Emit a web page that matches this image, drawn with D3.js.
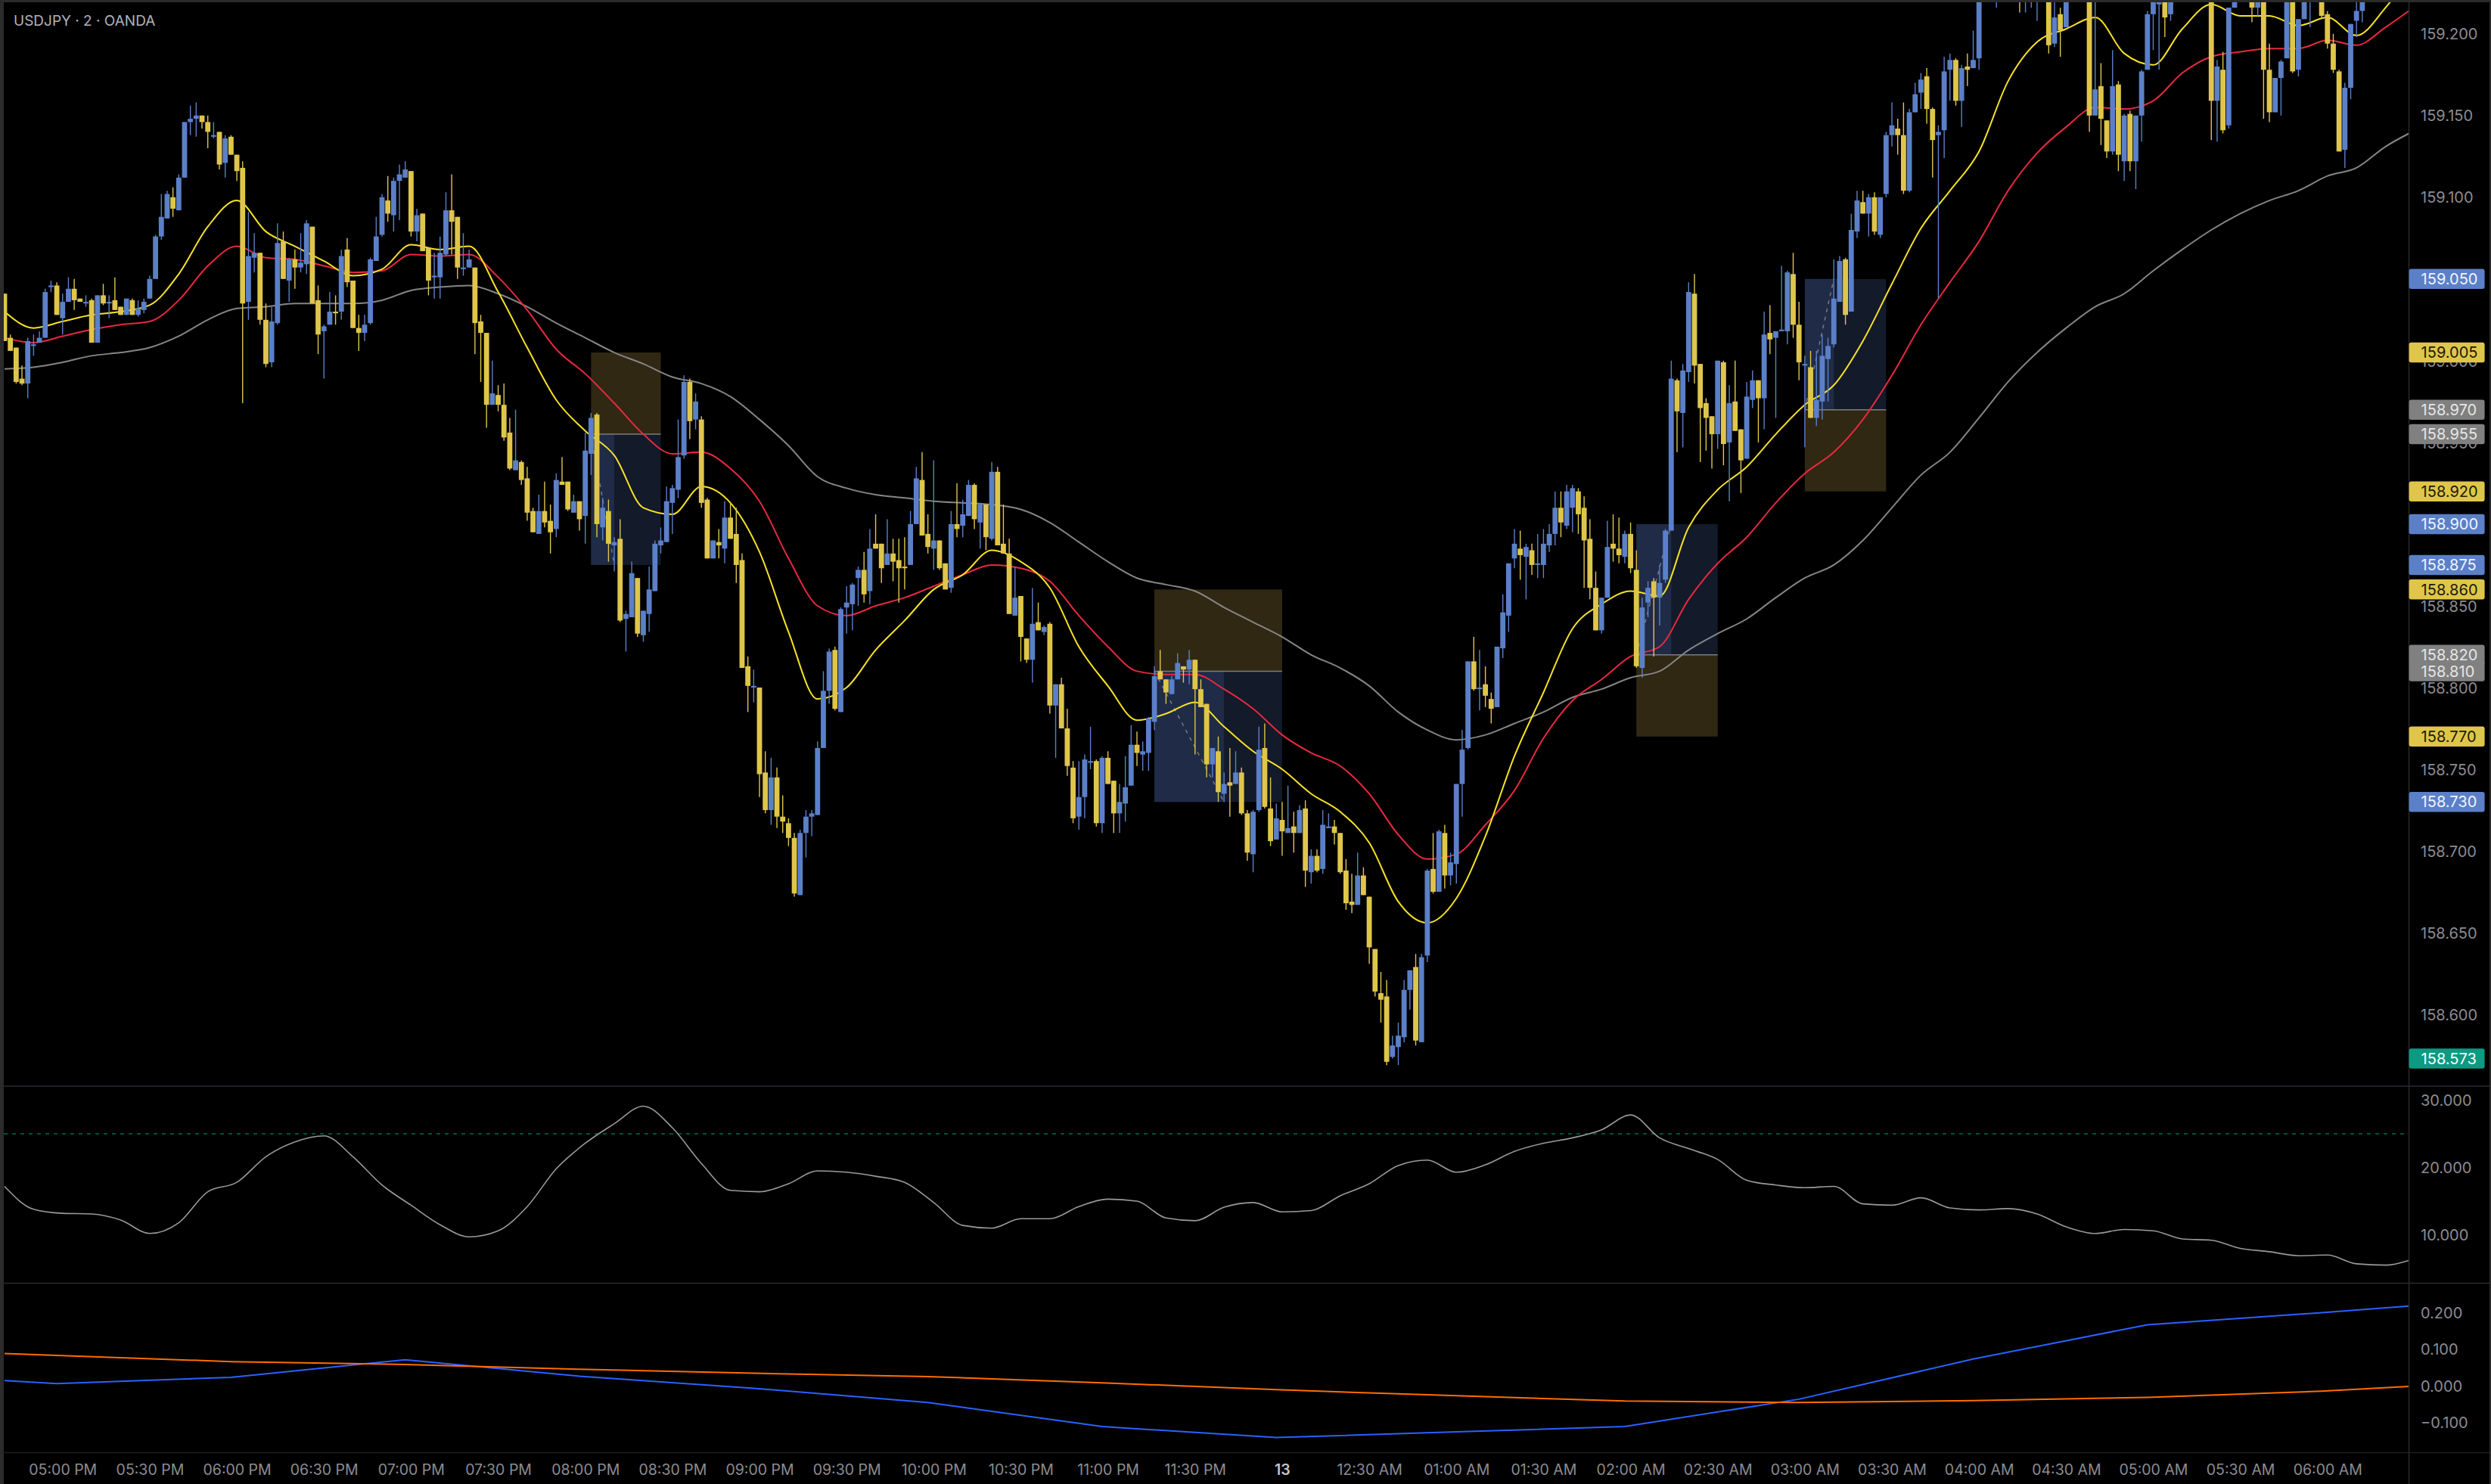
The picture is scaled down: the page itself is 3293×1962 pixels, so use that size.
<!DOCTYPE html>
<html>
<head>
<meta charset="utf-8">
<script src="https://cdn.jsdelivr.net/npm/d3@7"></script>
<style>
  html, body { margin: 0; padding: 0; background: #000; }
  svg { display: block; }
  text { font-family: Inter, "Liberation Sans", sans-serif; }
</style>
</head>
<body>
<script>
// USDJPY 2 minute candles. Bars above the top edge are guesses.
var opens = [
159.041,159.014,159.008,158.989,158.986,159.009,159.011,159.014,159.045,159.046,
159.026,159.036,159.044,159.038,159.035,159.037,159.011,159.040,159.035,159.037,
159.033,159.028,159.037,159.028,159.031,159.038,159.050,159.076,159.087,159.100,
159.092,159.112,159.146,159.148,159.150,159.146,159.137,159.140,159.121,159.137,
159.126,159.118,159.036,159.063,159.066,159.025,158.999,159.023,159.073,159.049,
159.062,159.057,159.059,159.082,159.037,159.018,159.022,159.030,159.030,159.068,
159.049,159.020,159.017,159.023,159.061,159.077,159.098,159.089,159.110,159.112,
159.116,159.079,159.090,159.069,159.051,159.051,159.065,159.092,159.088,159.056,
159.057,159.057,159.024,159.017,158.973,158.979,158.973,158.956,158.933,158.938,
158.928,158.908,158.894,158.908,158.902,158.897,158.926,158.926,158.907,158.914,
158.905,158.943,158.967,158.898,158.908,158.887,158.891,158.842,158.843,158.867,
158.832,158.845,158.859,158.887,158.889,158.913,158.921,158.942,158.987,158.964,
158.964,158.915,158.879,158.889,158.885,158.904,158.894,158.878,158.813,158.800,
158.800,158.748,158.725,158.745,158.721,158.717,158.708,158.673,158.711,158.721,
158.722,158.763,158.798,158.823,158.785,158.849,158.851,158.867,158.872,158.859,
158.888,158.888,158.875,158.882,158.878,158.874,158.875,158.900,158.927,158.894,
158.885,158.890,158.876,158.861,158.900,158.899,158.905,158.924,158.901,158.912,
158.891,158.932,158.888,158.882,158.844,158.856,158.830,158.817,158.840,158.834,
158.839,158.789,158.802,158.775,158.751,158.721,158.733,158.754,158.755,158.717,
158.757,158.743,158.723,158.729,158.740,158.765,158.759,158.760,158.779,158.810,
158.805,158.796,158.805,158.813,158.811,158.817,158.799,158.790,158.753,158.761,
158.735,158.742,158.741,158.748,158.723,158.698,158.725,158.763,158.726,158.707,
158.719,158.711,158.715,158.711,158.726,158.687,158.697,158.689,158.714,158.715,
158.711,158.688,158.669,158.667,158.685,158.672,158.640,158.613,158.611,158.574,
158.580,158.586,158.615,158.629,158.583,158.636,158.689,158.675,158.711,158.685,
158.692,158.741,158.763,158.816,158.799,158.802,158.793,158.788,158.824,158.844,
158.879,158.885,158.880,158.884,158.875,158.875,158.887,158.894,158.910,158.899,
158.910,158.920,158.910,158.891,158.861,158.835,158.855,158.888,158.885,158.880,
158.894,158.872,158.812,158.852,158.865,158.855,158.866,158.896,158.988,158.968,
158.993,159.041,158.998,158.974,158.966,158.955,158.999,158.950,158.975,158.958,
158.940,158.976,158.988,158.977,159.017,159.014,159.018,159.018,159.053,159.022,
158.997,158.996,158.965,158.975,159.001,159.010,159.036,159.062,159.030,159.079,
159.097,159.090,159.100,159.077,159.102,159.138,159.142,159.138,159.104,159.152,
159.164,159.174,159.154,159.138,159.141,159.178,159.184,159.159,159.180,159.179,
159.185,159.222,159.230,159.226,159.232,159.228,159.235,159.230,159.224,159.231,
159.235,159.240,159.232,159.194,159.212,159.204,159.224,159.232,159.228,159.238,
159.150,159.168,159.147,159.128,159.169,159.122,159.151,159.122,159.150,159.178,
159.212,159.218,159.234,159.212,159.238,159.242,159.234,159.240,159.230,159.238,
159.236,159.159,159.178,159.144,159.216,159.228,159.226,159.234,159.216,159.234,
159.178,159.152,159.173,159.185,159.230,159.178,159.209,159.224,159.232,159.232,
159.212,159.194,159.177,159.129,159.167,159.208,159.214];
var highs = [
159.041,159.016,159.008,158.997,159.014,159.016,159.018,159.044,159.049,159.048,
159.041,159.051,159.050,159.038,159.040,159.038,159.040,159.047,159.040,159.051,
159.033,159.038,159.038,159.037,159.038,159.052,159.077,159.102,159.104,159.106,
159.114,159.146,159.156,159.158,159.150,159.150,159.146,159.140,159.138,159.138,
159.126,159.122,159.091,159.078,159.066,159.035,159.033,159.084,159.079,159.063,
159.068,159.078,159.086,159.082,159.046,159.022,159.042,159.040,159.068,159.075,
159.049,159.028,159.028,159.063,159.088,159.102,159.113,159.112,159.120,159.122,
159.116,159.093,159.090,159.069,159.066,159.076,159.103,159.114,159.088,159.078,
159.068,159.057,159.028,159.017,159.000,158.985,158.986,158.965,158.970,158.939,
158.935,158.910,158.918,158.926,158.912,158.931,158.941,158.926,158.918,158.914,
158.956,158.968,158.968,158.916,158.915,158.892,158.903,158.847,158.877,158.867,
158.847,158.874,158.890,158.898,158.923,158.924,158.964,158.991,158.989,158.980,
158.966,158.916,158.890,158.897,158.914,158.913,158.910,158.882,158.819,158.811,
158.800,158.761,158.757,158.751,158.734,158.720,158.711,158.713,158.725,158.725,
158.767,158.810,158.824,158.825,158.849,158.862,158.864,158.874,158.883,158.897,
158.906,158.888,158.903,158.891,158.891,158.892,158.908,158.935,158.944,158.906,
158.939,158.890,158.876,158.908,158.925,158.915,158.927,158.925,158.913,158.912,
158.938,158.935,158.912,158.891,158.874,158.856,158.830,158.861,158.852,158.838,
158.840,158.802,158.806,158.787,158.755,158.755,158.759,158.776,158.756,158.758,
158.761,158.743,158.741,158.758,158.777,158.773,158.767,158.782,158.813,158.823,
158.805,158.807,158.821,158.813,158.823,158.817,158.805,158.790,158.763,158.770,
158.748,158.763,158.761,158.751,158.725,158.725,158.776,158.778,158.745,158.729,
158.730,158.740,158.724,158.728,158.731,158.701,158.701,158.725,158.723,158.719,
158.711,158.695,158.686,158.699,158.690,158.672,158.640,158.626,158.621,158.587,
158.595,158.621,158.627,158.637,158.637,158.689,158.711,158.713,158.716,158.699,
158.741,158.774,158.816,158.831,158.823,158.813,158.797,158.825,158.857,158.876,
158.897,158.896,158.888,158.888,158.894,158.897,158.900,158.920,158.920,158.924,
158.924,158.922,158.917,158.903,158.871,158.855,158.902,158.906,158.904,158.896,
158.901,158.884,158.855,158.865,158.867,158.875,158.897,159.000,158.989,158.998,
159.048,159.053,158.998,158.977,158.966,159.000,159.000,158.985,159.000,158.958,
158.987,158.994,158.988,159.030,159.034,159.018,159.058,159.055,159.066,159.036,
159.003,159.006,159.006,159.016,159.014,159.062,159.064,159.063,159.090,159.104,
159.104,159.102,159.103,159.100,159.140,159.158,159.148,159.158,159.154,159.170,
159.176,159.179,159.155,159.144,159.186,159.188,159.185,159.181,159.188,159.202,
159.226,159.232,159.236,159.235,159.240,159.238,159.242,159.236,159.234,159.238,
159.244,159.246,159.238,159.225,159.216,159.232,159.236,159.238,159.242,159.242,
159.225,159.182,159.147,159.190,159.171,159.151,159.153,159.150,159.178,159.214,
159.235,159.240,159.240,159.245,159.246,159.248,159.246,159.246,159.242,159.244,
159.244,159.184,159.189,159.216,159.236,159.236,159.238,159.240,159.240,159.240,
159.194,159.173,159.184,159.236,159.238,159.209,159.234,159.240,159.238,159.238,
159.214,159.200,159.178,159.170,159.206,159.225,159.236];
var lows = [
159.012,159.006,158.986,158.985,158.977,159.003,159.011,159.014,159.042,159.028,
159.016,159.036,159.031,159.036,159.033,159.011,159.011,159.034,159.026,159.031,
159.028,159.028,159.028,159.027,159.029,159.038,159.050,159.074,159.087,159.088,
159.092,159.112,159.138,159.137,159.142,159.130,159.136,159.117,159.112,159.126,
159.110,158.974,159.025,159.054,159.022,158.996,158.996,159.022,159.050,159.036,
159.044,159.054,159.053,159.035,159.004,158.989,159.022,159.022,159.025,159.045,
159.020,159.006,159.012,159.022,159.061,159.076,159.085,159.079,159.086,159.112,
159.076,159.073,159.067,159.040,159.038,159.038,159.064,159.065,159.050,159.052,
159.057,159.004,158.987,158.959,158.973,158.969,158.951,158.933,158.933,158.924,
158.902,158.895,158.894,158.898,158.882,158.892,158.924,158.908,158.907,158.896,
158.888,158.930,158.892,158.890,158.877,158.871,158.840,158.822,158.843,158.831,
158.828,158.834,158.859,158.882,158.889,158.894,158.916,158.940,158.952,158.958,
158.910,158.879,158.879,158.879,158.876,158.891,158.864,158.812,158.785,158.791,
158.733,158.723,158.716,158.714,158.711,158.703,158.672,158.673,158.696,158.709,
158.722,158.763,158.790,158.786,158.785,158.833,158.835,158.850,158.852,158.851,
158.885,158.864,158.875,158.865,158.852,158.860,158.875,158.900,158.893,158.882,
158.872,158.872,158.860,158.858,158.892,158.892,158.905,158.897,158.885,158.884,
158.890,158.887,158.882,158.845,158.844,158.816,158.815,158.803,158.835,158.832,
158.784,158.757,158.775,158.746,158.717,158.713,158.720,158.750,158.715,158.711,
158.741,158.711,158.711,158.718,158.740,158.752,158.749,158.749,158.774,158.805,
158.790,158.796,158.805,158.803,158.802,158.759,158.788,158.745,158.745,158.730,
158.730,158.721,158.741,158.722,158.694,158.687,158.724,158.726,158.703,158.707,
158.697,158.711,158.699,158.711,158.678,158.680,158.687,158.686,158.714,158.704,
158.686,158.664,158.662,158.667,158.673,158.631,158.611,158.595,158.569,158.573,
158.569,158.583,158.603,158.581,158.583,158.632,158.674,158.675,158.677,158.679,
158.680,158.721,158.762,158.798,158.786,158.788,158.778,158.788,158.818,158.834,
158.873,158.866,158.854,158.869,158.867,158.867,158.883,158.887,158.892,158.897,
158.895,158.894,158.861,158.854,158.835,158.833,158.855,158.877,158.876,158.876,
158.870,158.812,158.806,158.843,158.819,158.838,158.864,158.896,158.944,158.947,
158.987,158.986,158.938,158.945,158.934,158.946,158.936,158.914,158.957,158.919,
158.940,158.971,158.950,158.958,159.004,158.965,159.018,159.010,159.014,158.988,
158.947,158.965,158.960,158.964,158.975,159.008,159.036,159.022,159.030,159.075,
159.090,159.076,159.077,159.075,159.100,159.131,159.126,159.102,159.103,159.152,
159.154,159.145,159.112,159.038,159.124,159.159,159.156,159.143,159.168,159.179,
159.178,159.221,159.224,159.216,159.225,159.224,159.226,159.213,159.213,159.216,
159.208,159.224,159.188,159.192,159.186,159.204,159.223,159.225,159.226,159.140,
159.150,159.132,159.124,159.126,159.116,159.110,159.116,159.105,159.134,159.178,
159.190,159.178,159.198,159.208,159.226,159.228,159.228,159.226,159.226,159.228,
159.135,159.134,159.139,159.142,159.216,159.222,159.222,159.207,159.211,159.148,
159.146,159.152,159.150,159.185,159.176,159.174,159.209,159.204,159.224,159.210,
159.191,159.176,159.128,159.118,159.160,159.198,159.207];
var closes = [
159.012,159.006,158.987,158.986,159.012,159.010,159.014,159.042,159.046,159.028,
159.036,159.044,159.037,159.036,159.036,159.011,159.040,159.035,159.036,159.031,
159.028,159.038,159.028,159.032,159.036,159.050,159.076,159.088,159.102,159.093,
159.112,159.146,159.148,159.150,159.146,159.140,159.138,159.120,159.136,159.126,
159.116,159.035,159.064,159.066,159.025,158.998,159.024,159.072,159.050,159.062,
159.057,159.060,159.084,159.035,159.016,159.021,159.030,159.029,159.064,159.048,
159.020,159.017,159.022,159.062,159.076,159.100,159.090,159.110,159.114,159.117,
159.079,159.089,159.067,159.049,159.052,159.066,159.092,159.085,159.057,159.057,
159.062,159.023,159.017,158.973,158.980,158.973,158.953,158.934,158.939,158.927,
158.907,158.895,158.908,158.901,158.895,158.927,158.924,158.909,158.914,158.903,
158.945,158.965,158.900,158.910,158.888,158.889,158.841,158.845,158.870,158.833,
158.847,158.860,158.888,158.890,158.914,158.922,158.941,158.987,158.963,158.975,
158.913,158.879,158.890,158.887,158.904,158.891,158.875,158.812,158.801,158.801,
158.747,158.725,158.745,158.721,158.718,158.708,158.674,158.711,158.721,158.723,
158.763,158.798,158.822,158.787,158.848,158.852,158.863,158.872,158.857,158.885,
158.885,158.873,158.882,158.877,158.873,158.873,158.900,158.928,158.893,158.886,
158.890,158.873,158.860,158.900,158.897,158.906,158.924,158.903,158.912,158.892,
158.932,158.887,158.882,158.845,158.855,158.831,158.817,158.839,158.835,158.837,
158.789,158.802,158.775,158.752,158.720,158.733,158.756,158.755,158.717,158.757,
158.741,158.723,158.730,158.739,158.765,158.760,158.761,158.781,158.807,158.805,
158.797,158.805,158.815,158.811,158.817,158.799,158.788,158.753,158.763,158.736,
158.741,158.740,158.748,158.723,158.699,158.724,158.762,158.727,158.706,158.720,
158.712,158.714,158.711,158.725,158.688,158.697,158.688,158.716,158.715,158.711,
158.687,158.668,158.667,158.685,158.673,158.641,158.614,158.609,158.571,158.581,
158.587,158.615,158.627,158.584,158.635,158.688,158.675,158.712,158.685,158.693,
158.741,158.762,158.816,158.799,158.800,158.795,158.787,158.825,158.846,158.876,
158.888,158.881,158.886,158.875,158.876,158.888,158.894,158.910,158.901,158.920,
158.922,158.906,158.890,158.861,158.835,158.855,158.886,158.885,158.881,158.894,
158.873,158.813,158.849,158.861,158.855,158.864,158.896,158.989,158.969,158.994,
159.042,158.997,158.971,158.965,158.955,159.000,158.949,158.974,158.957,158.939,
158.978,158.988,158.977,159.016,159.013,159.018,159.019,159.054,159.022,158.999,
158.998,158.965,158.976,159.003,159.009,159.038,159.061,159.028,159.080,159.098,
159.090,159.100,159.079,159.100,159.138,159.144,159.138,159.104,159.152,159.163,
159.172,159.154,159.135,159.140,159.177,159.184,159.159,159.179,159.178,159.184,
159.220,159.230,159.226,159.232,159.228,159.235,159.230,159.224,159.231,159.235,
159.240,159.232,159.193,159.210,159.202,159.224,159.232,159.228,159.238,159.150,
159.166,159.148,159.128,159.168,159.126,159.150,159.122,159.150,159.177,159.212,
159.226,159.232,159.210,159.238,159.242,159.234,159.240,159.230,159.238,159.232,
159.159,159.180,159.141,159.216,159.228,159.226,159.234,159.216,159.232,159.178,
159.152,159.173,159.183,159.228,159.177,159.209,159.226,159.232,159.226,159.211,
159.194,159.178,159.128,159.167,159.206,159.214,159.226];

// moving averages, read every fifth bar, last one at the price axis
var maBars = d3.range(0, 411, 5).concat([414]);
var maFast = [
159.030,159.020,159.024,159.028,159.030,159.034,159.053,159.082,159.098,159.079,
159.070,159.061,159.052,159.056,159.071,159.068,159.070,159.042,159.008,158.976,
158.957,158.942,158.910,158.906,158.923,158.913,158.883,158.834,158.793,158.800,
158.823,158.841,158.860,158.869,158.884,158.877,158.861,158.825,158.801,158.780,
158.784,158.791,158.776,158.761,158.750,158.735,158.724,158.705,158.669,158.656,
158.671,158.709,158.758,158.797,158.836,158.851,158.859,158.856,158.898,158.921,
158.935,158.955,158.973,158.985,159.012,159.047,159.081,159.104,159.128,159.171,
159.195,159.203,159.210,159.188,159.181,159.203,159.218,159.211,159.211,159.205,
159.210,159.199,159.216,159.235];
var maMid = [
159.014,159.011,159.015,159.019,159.022,159.024,159.037,159.058,159.070,159.063,
159.062,159.058,159.054,159.055,159.065,159.064,159.065,159.051,159.031,159.007,
158.992,158.974,158.955,158.943,158.944,158.934,158.914,158.879,158.850,158.844,
158.850,158.855,158.862,158.869,158.875,158.873,158.865,158.844,158.825,158.810,
158.808,158.808,158.799,158.787,158.771,158.760,158.752,158.735,158.710,158.695,
158.698,158.716,158.737,158.769,158.792,158.805,158.819,158.825,158.854,158.876,
158.892,158.913,158.931,158.944,158.964,158.991,159.022,159.048,159.073,159.104,
159.127,159.143,159.155,159.154,159.159,159.176,159.186,159.189,159.191,159.191,
159.196,159.193,159.204,159.214];
var maSlow = [
158.995,158.996,158.999,159.003,159.005,159.008,159.015,159.025,159.032,159.033,
159.035,159.035,159.035,159.037,159.043,159.045,159.046,159.041,159.033,159.023,
159.014,159.005,158.998,158.990,158.986,158.978,158.964,158.948,158.929,158.922,
158.918,158.916,158.914,158.913,158.912,158.909,158.901,158.889,158.877,158.867,
158.863,158.859,158.849,158.840,158.831,158.820,158.812,158.801,158.785,158.774,
158.768,158.771,158.778,158.785,158.794,158.799,158.806,158.810,158.823,158.833,
158.842,158.855,158.867,158.875,158.890,158.910,158.930,158.944,158.965,158.987,
159.005,159.020,159.033,159.041,159.055,159.068,159.080,159.090,159.098,159.104,
159.113,159.118,159.131,159.139];

// middle pane oscillator, same sampling
var oscValues = [
17.2,13.8,13.2,13.1,12.2,10.2,11.8,16.4,17.8,21.6,
23.8,24.7,21.6,17.4,14.4,11.5,9.7,10.6,14.2,19.8,
23.6,26.5,29.1,25.9,20.6,16.6,16.4,17.6,19.5,19.3,
18.7,17.8,14.8,11.4,11.0,12.4,12.4,14.2,15.3,15.0,
12.5,12.1,14.1,14.8,13.4,13.6,15.8,17.6,20.3,21.1,
19.3,20.4,22.4,23.6,24.4,25.6,27.8,24.4,22.8,21.2,
18.1,17.4,17.0,17.2,14.6,14.4,15.5,14.0,13.7,13.9,
13.1,11.2,10.2,10.8,10.6,9.4,9.2,8.0,7.5,6.9,
7.0,5.7,5.5,6.2];
var oscLevel = 25;

// bottom pane, hourly values so the lines only bend once an hour
var macdBars = [0,9,39,69,99,129,159,189,219,249,279,309,339,369,399,414];
var macdLine = [0.014,0.006,0.023,0.071,0.026,-0.007,-0.046,-0.112,-0.142,-0.127,-0.112,-0.037,0.073,0.167,0.200,0.218];
var macdSignal = [0.088,0.083,0.066,0.058,0.045,0.034,0.025,0.008,-0.011,-0.027,-0.042,-0.046,-0.041,-0.032,-0.015,-0.002];

// position boxes
var boxStart = [101,198,281,310];
var boxLight = [105,210,287,315];
var boxEnd = [113,220,295,324];
var boxEntry = [158.955,158.810,158.820,158.970];
var boxTarget = [158.875,158.730,158.900,159.050];
var boxStop = [159.005,158.860,158.770,158.920];

var priceTicks = [159.2,159.15,159.1,159.05,159.0,158.95,158.9,158.85,158.8,158.75,158.7,158.65,158.6];
var oscTicks = [30,20,10];
var macdTicks = [0.2,0.1,0,-0.1];
var timeTickBars = d3.range(10, 401, 15);
var timeLabels = ["05:00 PM","05:30 PM","06:00 PM","06:30 PM","07:00 PM","07:30 PM","08:00 PM","08:30 PM","09:00 PM","09:30 PM",
  "10:00 PM","10:30 PM","11:00 PM","11:30 PM","13","12:30 AM","01:00 AM","01:30 AM","02:00 AM","02:30 AM","03:00 AM",
  "03:30 AM","04:00 AM","04:30 AM","05:00 AM","05:30 AM","06:00 AM"];

var tagPrices = [159.05,159.005,158.97,158.955,158.92,158.9,158.875,158.86,158.82,158.81,158.77,158.73,158.573];
var tagKinds = ["blue","yellow","gray","gray","yellow","blue","blue","yellow","gray","gray","yellow","blue","teal"];

var W = 3293, H = 1962;
var plotLeft = 5, axisX = 3184.6;
var pane1 = [3, 1436], pane2 = [1436, 1696.4], pane3 = [1696.4, 1920.4];

var blue = "#5b80c8", yellow = "#dfc64b";
var tagFill = { blue: blue, yellow: yellow, gray: "#808080", teal: "#0a9b82" };
var tagText = { blue: "#f0f4ff", yellow: "#1c1a08", gray: "#e6e6e6", teal: "#ffffff" };
var tickColor = "#8c8c92";

var svg = d3.select("body").append("svg").attr("width", W).attr("height", H).style("background", "#000");

var x = d3.scaleLinear().domain([0, 414]).range([6, 6 + 414 * 7.677]);
var y = d3.scaleLinear().domain([159.2193, 158.5561]).range(pane1);
var yOsc = d3.scaleLinear().domain([30, 10]).range([1454.5, 1632.6]);
var yMacd = d3.scaleLinear().domain([0.2, -0.1]).range([1735.5, 1880.3]);

svg.append("clipPath").attr("id", "clip1").append("rect")
  .attr("x", plotLeft).attr("y", pane1[0]).attr("width", axisX - plotLeft).attr("height", pane1[1] - pane1[0]);

var main = svg.append("g").attr("clip-path", "url(#clip1)");

// position boxes go under everything
boxStart.forEach(function(s, k) {
  var bx = x(s), bw = x(boxEnd[k]) - x(s);
  var yEntry = y(boxEntry[k]), yTarget = y(boxTarget[k]), yStop = y(boxStop[k]);
  main.append("rect").attr("x", bx).attr("width", bw)
    .attr("y", Math.min(yEntry, yStop)).attr("height", Math.abs(yStop - yEntry))
    .attr("fill", "#302813");
  main.append("rect").attr("x", bx).attr("width", bw)
    .attr("y", Math.min(yEntry, yTarget)).attr("height", Math.abs(yTarget - yEntry))
    .attr("fill", "#131a2a");
  main.append("rect").attr("x", bx).attr("width", x(boxLight[k]) - x(s))
    .attr("y", Math.min(yEntry, yTarget)).attr("height", Math.abs(yTarget - yEntry))
    .attr("fill", "#1f2b47");
  main.append("line").attr("x1", bx).attr("x2", bx + bw).attr("y1", yEntry).attr("y2", yEntry)
    .attr("stroke", "#7c7c7c").attr("stroke-width", 1.5);
  main.append("line").attr("x1", bx).attr("x2", x(boxLight[k])).attr("y1", yEntry).attr("y2", yTarget)
    .attr("stroke", "#77797f").attr("stroke-width", 1.5).attr("stroke-dasharray", "5 6");
});

function maLine(values, color) {
  var line = d3.line().curve(d3.curveMonotoneX).x(function(d, i) { return x(maBars[i]); }).y(function(d) { return y(d); });
  main.append("path").attr("d", line(values)).attr("fill", "none")
    .attr("stroke", color).attr("stroke-width", 2);
}
maLine(maSlow, "#858585");
maLine(maMid, "#e8293f");
maLine(maFast, "#f7e226");

// candles on top of the averages
var candle = main.selectAll("g.candle").data(opens).enter().append("g").attr("class", "candle");
candle.append("line")
  .attr("x1", function(d, i) { return x(i); })
  .attr("x2", function(d, i) { return x(i); })
  .attr("y1", function(d, i) { return y(highs[i]); })
  .attr("y2", function(d, i) { return y(lows[i]); })
  .attr("stroke", function(d, i) { return closes[i] >= d ? blue : yellow; })
  .attr("stroke-width", 1.4);
candle.append("rect")
  .attr("x", function(d, i) { return x(i) - 3.4; })
  .attr("width", 6.8)
  .attr("y", function(d, i) { return y(Math.max(d, closes[i])); })
  .attr("height", function(d, i) { return Math.max(2, Math.abs(y(d) - y(closes[i]))); })
  .attr("fill", function(d, i) { return closes[i] >= d ? blue : yellow; });

// oscillator pane
svg.append("line").attr("x1", plotLeft).attr("x2", axisX - 5).attr("y1", yOsc(oscLevel)).attr("y2", yOsc(oscLevel))
  .attr("stroke", "#0a9b82").attr("stroke-width", 1.1).attr("stroke-dasharray", "5 6");
svg.append("path")
  .attr("d", d3.line().curve(d3.curveMonotoneX).x(function(d, i) { return x(maBars[i]); }).y(function(d) { return yOsc(d); })(oscValues))
  .attr("fill", "none").attr("stroke", "#9a9a9a").attr("stroke-width", 1.6);

// macd pane
function macdPath(values, color) {
  svg.append("path")
    .attr("d", d3.line().x(function(d, i) { return x(macdBars[i]); }).y(function(d) { return yMacd(d); })(values))
    .attr("fill", "none").attr("stroke", color).attr("stroke-width", 2);
}
macdPath(macdLine, "#2962ff");
macdPath(macdSignal, "#ff6d00");

// frame and pane separators
svg.append("rect").attr("x", 0).attr("y", 0).attr("width", plotLeft).attr("height", H).attr("fill", "#2b2b2b");
svg.append("rect").attr("x", 0).attr("y", 0).attr("width", W).attr("height", 3).attr("fill", "#2b2b2b");
svg.append("rect").attr("x", 3291).attr("y", 0).attr("width", 2).attr("height", H).attr("fill", "#2b2b2b");
[pane1[1], pane2[1]].forEach(function(py) {
  svg.append("line").attr("x1", plotLeft).attr("x2", 3291).attr("y1", py).attr("y2", py)
    .attr("stroke", "#2a2a32").attr("stroke-width", 1.5);
});
svg.append("line").attr("x1", plotLeft).attr("x2", 3291).attr("y1", pane3[1]).attr("y2", pane3[1])
  .attr("stroke", "#1f1f1f").attr("stroke-width", 1.5);
svg.append("line").attr("x1", axisX).attr("x2", axisX).attr("y1", 3).attr("y2", H)
  .attr("stroke", "#2a2a2a").attr("stroke-width", 1.5);

// axes
function valueAxis(scale, ticks, fmt) {
  var axis = d3.axisRight(scale).tickValues(ticks).tickSize(0).tickPadding(15.4).tickFormat(d3.format(fmt));
  var g = svg.append("g").attr("transform", "translate(" + axisX + ",0)").call(axis);
  g.select(".domain").remove();
  g.selectAll("text").attr("fill", tickColor).style("font-size", "20px").attr("dy", "0.36em");
}
valueAxis(y, priceTicks, ".3f");
valueAxis(yOsc, oscTicks, ".3f");
valueAxis(yMacd, macdTicks, ".3f");

var timeAxis = d3.axisBottom(x).tickValues(timeTickBars).tickSize(0).tickPadding(0)
  .tickFormat(function(d, i) { return timeLabels[i]; });
var timeG = svg.append("g").attr("transform", "translate(0,1943.4)").call(timeAxis);
timeG.select(".domain").remove();
timeG.selectAll("text").attr("y", 0).attr("dy", "0.36em")
  .attr("fill", function(d, i) { return timeLabels[i] == "13" ? "#c4c4c8" : tickColor; })
  .style("font-weight", function(d, i) { return timeLabels[i] == "13" ? "600" : "400"; })
  .style("font-size", "19.5px");

// price tags over the axis
tagPrices.forEach(function(p, k) {
  var kind = tagKinds[k];
  svg.append("rect").attr("x", axisX).attr("width", 100).attr("y", y(p) - 13.25).attr("height", 26.5)
    .attr("rx", 3).attr("fill", tagFill[kind]);
  svg.append("text").attr("x", axisX + 16).attr("y", y(p)).attr("dy", "0.36em")
    .attr("fill", tagText[kind]).style("font-size", "20px").text(d3.format(".3f")(p));
});

svg.append("text").attr("x", 18).attr("y", 27).attr("dy", "0.36em")
  .attr("fill", "#b0b3be").style("font-size", "19px").text("USDJPY · 2 · OANDA");
</script>
</body>
</html>
